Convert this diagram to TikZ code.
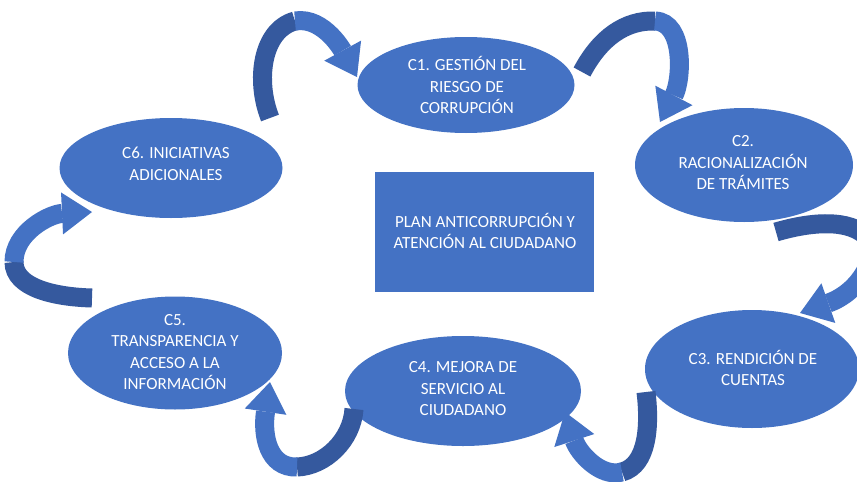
\documentclass[tikz,border=0pt]{standalone}
\usepackage{fontspec}
\setmainfont{Carlito}
\usetikzlibrary{shapes.geometric,arrows.meta}
\definecolor{ofblue}{HTML}{4472C4}
\definecolor{ofdark}{HTML}{35599E}
\begin{document}
\begin{tikzpicture}[x=1pt,y=-1pt,
  ell/.style={ellipse, fill=ofblue, draw=none, inner sep=0pt},
  box/.style={rectangle, fill=ofblue, draw=none, inner sep=0pt},
  lbl/.style={text=white, align=center, inner sep=0pt, font=\fontsize{17}{21.5}\selectfont},
  bandD/.style={draw=ofdark, line width=19pt},
  bandL/.style={draw=ofblue, line width=19pt, -{Triangle[length=30pt,width=42pt,line width=0pt]}},
]
\useasboundingbox (0,0) rectangle (857,482);
\fill[white] (0,0) rectangle (857,482);
\clip (0,0) rectangle (857,482);

% shapes
\node[ell, minimum width=217pt, minimum height=96pt] (c1) at (466,85) {};
\node[ell, minimum width=218pt, minimum height=114pt] (c2) at (744,165) {};
\node[ell, minimum width=214pt, minimum height=118pt] (c3) at (752,369) {};
\node[ell, minimum width=236pt, minimum height=110pt] (c4) at (463,391) {};
\node[ell, minimum width=214pt, minimum height=113pt] (c5) at (175,353) {};
\node[ell, minimum width=223pt, minimum height=100pt] (c6) at (171,168) {};
\node[box, minimum width=219pt, minimum height=120pt] (plan) at (484.5,232) {};

% texts
\node[lbl] (t1) at (467,85) {C1. GESTIÓN DEL\\RIESGO DE\\CORRUPCIÓN};
\node[lbl] (t2) at (743,163) {C2.\\RACIONALIZACIÓN\\DE TRÁMITES};
\node[lbl] (t3) at (753,368) {C3. RENDICIÓN DE\\CUENTAS};
\node[lbl] (t4) at (463,389) {C4. MEJORA DE\\SERVICIO AL\\CIUDADANO};
\node[lbl] (t5) at (175,352) {C5.\\TRANSPARENCIA Y\\ACCESO A LA\\INFORMACIÓN};
\node[lbl] (t6) at (176,164) {C6. INICIATIVAS\\ADICIONALES};
\node[lbl] (tp) at (485,231) {PLAN ANTICORRUPCIÓN Y\\ATENCIÓN AL CIUDADANO};

% arrow C6 -> C1
\coordinate (a1s) at (270,118);
\coordinate (a1m) at (295,21);
\coordinate (a1e) at (357,77);
\draw[bandD] (a1s) .. controls (255,80) and (262,30) .. (a1m);
\draw[bandL] (a1m) .. controls (325,16) and (345,55) .. (a1e);

% arrow C1 -> C2
\coordinate (a2s) at (582,72);
\coordinate (a2m) at (655,21);
\coordinate (a2e) at (660,122);
\draw[bandD] (a2s) .. controls (600,38) and (625,20) .. (a2m);
\draw[bandL] (a2m) .. controls (685,22) and (682,80) .. (a2e);

% arrow C2 -> C3
\coordinate (a3s) at (776,232);
\coordinate (a3m) at (868,238);
\coordinate (a3e) at (800,313);
\draw[bandD] (a3s) .. controls (810,222) and (850,218) .. (a3m);
\draw[bandL] (a3m) .. controls (880,255) and (860,292) .. (a3e);

% arrow C3 -> C4
\coordinate (a4s) at (646,392);
\coordinate (a4m) at (622,472);
\coordinate (a4e) at (565,412);
\draw[bandD] (a4s) .. controls (650,425) and (648,465) .. (a4m);
\draw[bandL] (a4m) .. controls (600,478) and (578,452) .. (a4e);

% arrow C4 -> C5
\coordinate (a5s) at (354,409);
\coordinate (a5m) at (297,467);
\coordinate (a5e) at (270,382);
\draw[bandD] (a5s) .. controls (352,440) and (325,466) .. (a5m);
\draw[bandL] (a5m) .. controls (268,468) and (262,435) .. (a5e);

% arrow C5 -> C6
\coordinate (a6s) at (92,298);
\coordinate (a6m) at (14,262);
\coordinate (a6e) at (92,212);
\draw[bandD] (a6s) .. controls (55,297) and (14,288) .. (a6m);
\draw[bandL] (a6m) .. controls (14,232) and (50,214) .. (a6e);
\end{tikzpicture}
\end{document}
